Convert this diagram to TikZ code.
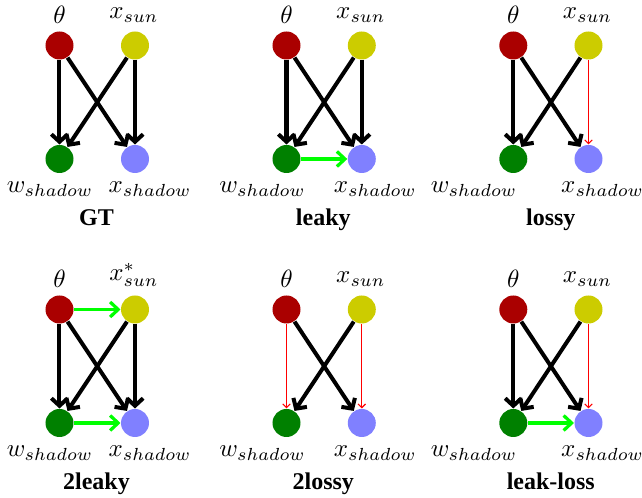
\documentclass[tikz,border=0pt]{standalone}
\usepackage{fontspec}
\usetikzlibrary{arrows.meta}
\newfontfamily\ttlfont{Liberation Serif}
\definecolor{cT}{HTML}{AA0000}
\definecolor{cS}{HTML}{CCCC00}
\definecolor{cW}{HTML}{008000}
\definecolor{cX}{HTML}{8080FF}
\definecolor{cG}{HTML}{00FF00}
\tikzset{
  vnode/.style={circle,inner sep=0pt,minimum size=11.2pt,draw=none},
  lab/.style={inner sep=0pt,font=\fontsize{10}{12}\selectfont},
  ttl/.style={inner sep=0pt,anchor=base,font=\ttlfont\fontsize{9.6}{11}\selectfont\bfseries},
  blk/.style={-{Straight Barb[length=3pt,width=6.5pt]},line width=1.6pt,black},
  los/.style={-{Straight Barb[length=1.5pt,width=3pt]},line width=0.45pt,red},
  lk/.style={-{Straight Barb[length=3.2pt,width=6pt]},line width=1.3pt,cG},
}
% #1 prefix, #2 theta x, #3 sun x, #4 row y, #5 w-label x, #6 x-label x, #7 title x, #8 title, #9 sun label
\newcommand\mkpanel[9]{%
  \node[vnode,fill=cT] (#1t) at ({#2},{#4+45.5}) {};
  \node[vnode,fill=cS] (#1s) at ({#3},{#4+45.5}) {};
  \node[vnode,fill=cW] (#1w) at ({#2},{#4+159}) {};
  \node[vnode,fill=cX] (#1x) at ({#3},{#4+159}) {};
  \node[lab,anchor=south] (#1tl) at ({#2},{#4+24.5}) {$\theta$};
  \node[lab,anchor=south] (#1sl) at ({#3-1},{#4+23}) {#9};
  \node[lab,anchor=base] (#1wl) at ({#5},{#4+193}) {$w_{shadow}$};
  \node[lab,anchor=base] (#1xl) at ({#6},{#4+193}) {$x_{shadow}$};
  \node[ttl] (#1ti) at ({#7},{#4+225.5}) {#8};
}
\begin{document}
\begin{tikzpicture}[x=0.4pt,y=-0.4pt]
\useasboundingbox (0,0) rectangle (642,498);
% top row
\mkpanel{a}{59.5}{135}{0}{50}{150}{96.5}{GT}{$x_{sun}$}
\mkpanel{b}{286.5}{361.8}{0}{262.5}{375.3}{323.3}{leaky}{$x_{sun}$}
\mkpanel{c}{513.3}{588.5}{0}{474}{602.6}{550.8}{lossy}{$x_{sun}$}
% bottom row
\mkpanel{d}{59.5}{135}{264}{50}{150}{96.5}{2leaky}{$x_{sun}^{*}$}
\mkpanel{e}{286.5}{361.8}{264}{262.5}{375.3}{323.3}{2lossy}{$x_{sun}$}
\mkpanel{f}{513.3}{588.5}{264}{474}{602.6}{550.8}{leak-loss}{$x_{sun}$}
% GT
\draw[blk] (at) -- (aw);
\draw[blk] (at) -- (ax);
\draw[blk] (as) -- (aw);
\draw[blk] (as) -- (ax);
% leaky
\draw[blk] (bt) -- (bw);
\draw[blk] (bt) -- (bx);
\draw[blk] (bs) -- (bw);
\draw[blk] (bs) -- (bx);
\draw[lk] (bw) -- (bx);
% lossy
\draw[blk] (ct) -- (cw);
\draw[blk] (ct) -- (cx);
\draw[blk] (cs) -- (cw);
\draw[los] (cs) -- (cx);
% 2leaky
\draw[blk] (dt) -- (dw);
\draw[blk] (dt) -- (dx);
\draw[blk] (ds) -- (dw);
\draw[blk] (ds) -- (dx);
\draw[lk] (dt) -- (ds);
\draw[lk] (dw) -- (dx);
% 2lossy
\draw[los] (et) -- (ew);
\draw[blk] (et) -- (ex);
\draw[blk] (es) -- (ew);
\draw[los] (es) -- (ex);
% leak-loss
\draw[blk] (ft) -- (fw);
\draw[blk] (ft) -- (fx);
\draw[blk] (fs) -- (fw);
\draw[los] (fs) -- (fx);
\draw[lk] (fw) -- (fx);
\end{tikzpicture}
\end{document}
